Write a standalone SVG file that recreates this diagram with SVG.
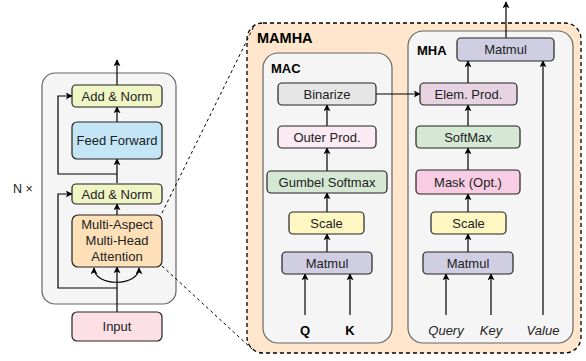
<svg xmlns="http://www.w3.org/2000/svg" width="586" height="361" viewBox="0 0 586 361">
<defs>
<marker id="ah" viewBox="0 0 10 10" refX="9" refY="5" markerWidth="7" markerHeight="7" markerUnits="userSpaceOnUse" orient="auto-start-reverse">
<path d="M0,0 L10,5 L0,10 L2.5,5 z" fill="#000"/>
</marker>
<style>
text{font-family:"Liberation Sans",Arial,sans-serif;font-size:13px;fill:#222;text-anchor:middle}
.n{stroke:#222;stroke-width:1.2}
.c{fill:none;stroke:#000;stroke-width:1.2}
.a{marker-end:url(#ah)}
.d{fill:none;stroke:#000;stroke-width:1;stroke-dasharray:3,3}
.b{font-weight:bold}
.i{font-style:italic}
</style>
</defs>
<rect width="586" height="361" fill="#fff"/>

<g id="container-left">
<rect x="42" y="73" width="134" height="231" rx="13" fill="#f5f5f5" stroke="#666" stroke-width="1.2"/>
<text x="23" y="193" style="font-size:12.5px">N ×</text>
</g>

<g id="mamha-region">
<rect x="247" y="23" width="334" height="330" rx="16" fill="#ffe6cc" stroke="#000" stroke-width="1.3" stroke-dasharray="4,3"/>
<text x="257" y="43" class="b" style="text-anchor:start;font-size:14.5px;fill:#000">MAMHA</text>
</g>
<g id="mac-group">
<rect x="263" y="53" width="129" height="290" rx="15" fill="#f5f5f5" stroke="#666" stroke-width="1.2"/>
<text x="271" y="73" class="b" style="text-anchor:start;fill:#000">MAC</text>
</g>
<g id="mha-group">
<rect x="408" y="31" width="165" height="312" rx="15" fill="#f5f5f5" stroke="#666" stroke-width="1.2"/>
<text x="417" y="55" class="b" style="text-anchor:start;fill:#000">MHA</text>
</g>

<g id="connectors">
<path class="c a" d="M117,312 V267"/>
<path class="c" d="M94,268 C94,287 139,287 139,268" marker-start="url(#ah)" marker-end="url(#ah)"/>
<path class="c a" d="M117,215 V204"/>
<path class="c a" d="M117,183 V159"/>
<path class="c a" d="M117,288 H58 V194 H72"/>
<path class="c a" d="M117,174 H58 V96 H72"/>
<path class="c a" d="M117,122 V107"/>
<path class="c a" d="M117,85 V60"/>
<path class="d" d="M162,213 L255,24"/>
<path class="d" d="M162,266 L252,349"/>

<path class="c a" d="M327,252 V234"/>
<path class="c a" d="M327,212 V193"/>
<path class="c a" d="M327,171 V148"/>
<path class="c a" d="M327,126 V105"/>
<path class="c a" d="M305,315 V274"/>
<path class="c a" d="M350,315 V274"/>
<path class="c a" d="M376,94 H420"/>

<path class="c a" d="M468,252 V234"/>
<path class="c a" d="M468,212 V194"/>
<path class="c a" d="M468,170 V148"/>
<path class="c a" d="M468,126 V105"/>
<path class="c a" d="M468,83 V61"/>
<path class="c a" d="M506,38 V2"/>
<path class="c a" d="M446,315 V274"/>
<path class="c a" d="M491,315 V274"/>
<path class="c a" d="M543,315 V61"/>
</g>

<g id="add-norm-top">
<rect class="n" x="72" y="85" width="90" height="22" rx="4" fill="#f0f5c5"/>
<text x="117" y="100.5">Add &amp; Norm</text>
</g>
<g id="feed-forward">
<rect class="n" x="72" y="122" width="90" height="37" rx="5" fill="#c4e5f6"/>
<text x="117" y="145">Feed Forward</text>
</g>
<g id="add-norm-bottom">
<rect class="n" x="72" y="184" width="90" height="20" rx="4" fill="#f0f5c5"/>
<text x="117" y="198.5">Add &amp; Norm</text>
</g>
<g id="mamha-node">
<rect class="n" x="72" y="215" width="90" height="52" rx="6" fill="#fde0b8"/>
<text x="117" y="229">Multi-Aspect</text>
<text x="117" y="245">Multi-Head</text>
<text x="117" y="261">Attention</text>
</g>
<g id="input">
<rect class="n" x="72" y="312" width="90" height="29" rx="5" fill="#fce0e6"/>
<text x="117" y="331">Input</text>
</g>

<g id="mac-binarize">
<rect class="n" x="278" y="83" width="98" height="22" rx="4" fill="#e6e6e6"/>
<text x="327" y="98.5">Binarize</text>
</g>
<g id="mac-outer-prod">
<rect class="n" x="278" y="126" width="98" height="22" rx="4" fill="#f9eaf3"/>
<text x="327" y="141.5">Outer Prod.</text>
</g>
<g id="mac-gumbel">
<rect class="n" x="267" y="171" width="120" height="22" rx="4" fill="#d5e8d4"/>
<text x="327" y="186.5">Gumbel Softmax</text>
</g>
<g id="mac-scale">
<rect class="n" x="289" y="212" width="75" height="22" rx="4" fill="#fff7c2"/>
<text x="326.5" y="227.5">Scale</text>
</g>
<g id="mac-matmul">
<rect class="n" x="282" y="252" width="90" height="22" rx="4" fill="#d0cee2"/>
<text x="327" y="267.5">Matmul</text>
</g>
<g id="mac-q"><text x="305" y="335" class="b" style="fill:#000">Q</text></g>
<g id="mac-k"><text x="350" y="335" class="b" style="fill:#000">K</text></g>

<g id="mha-matmul-top">
<rect class="n" x="457" y="38" width="97" height="23" rx="4" fill="#d0cee2"/>
<text x="505.5" y="54">Matmul</text>
</g>
<g id="mha-elem-prod">
<rect class="n" x="420" y="83" width="97" height="22" rx="4" fill="#e8d3e2"/>
<text x="468.5" y="98.5">Elem. Prod.</text>
</g>
<g id="mha-softmax">
<rect class="n" x="416" y="126" width="104" height="22" rx="4" fill="#d5e8d4"/>
<text x="468" y="141.5">SoftMax</text>
</g>
<g id="mha-mask">
<rect class="n" x="416" y="170" width="104" height="24" rx="4" fill="#f8cde3"/>
<text x="468" y="186.5">Mask (Opt.)</text>
</g>
<g id="mha-scale">
<rect class="n" x="431" y="212" width="75" height="22" rx="4" fill="#fff7c2"/>
<text x="468.5" y="227.5">Scale</text>
</g>
<g id="mha-matmul">
<rect class="n" x="423" y="252" width="90" height="22" rx="4" fill="#d0cee2"/>
<text x="468" y="267.5">Matmul</text>
</g>
<g id="mha-query"><text x="446" y="335" class="i">Query</text></g>
<g id="mha-key"><text x="491" y="335" class="i">Key</text></g>
<g id="mha-value"><text x="543" y="335" class="i">Value</text></g>
</svg>
